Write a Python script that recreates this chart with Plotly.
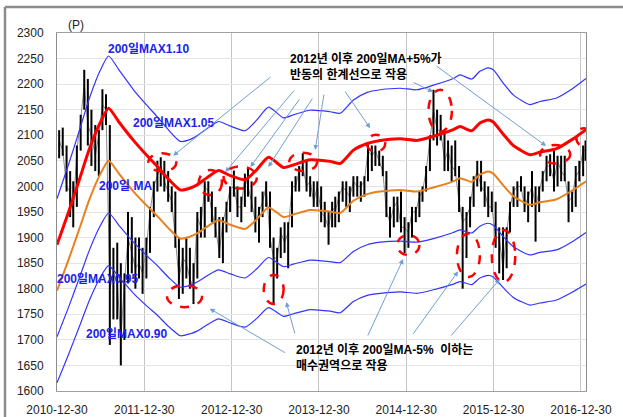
import plotly.graph_objects as go

# ---------------------------------------------------------------------------
# data
# KOSPI half-month high / low / close (one bar on the 8th and 23rd of a month)
price_high = [
    2110, 2115, 2080, 2030, 2010, 2080, 2140, 2228, 2210, 2150, 2120, 2110,
    2190, 2180, 2120, 1880, 1890, 1850, 1830, 1950, 1940, 1900, 1900, 1880,  # 2011
    1900, 1960, 2010, 2050, 2057, 2050, 2030, 2000, 1990, 1900, 1880, 1900,
    1880, 1850, 1950, 1960, 2010, 2010, 1990, 1960, 1940, 1940, 1970, 2000,  # 2012
    2031, 2000, 1980, 2025, 2035, 2010, 1980, 1960, 1990, 2010, 1990, 1900,
    1880, 1920, 1930, 1930, 2010, 2020, 2040, 2065, 2050, 2020, 2010, 2010,  # 2013
    2000, 1970, 1950, 1970, 1980, 1990, 2010, 2010, 2000, 2020, 2020, 2010,
    2020, 2082, 2080, 2080, 2070, 2060, 2030, 1960, 1980, 1980, 1990, 1940,  # 2014
    1930, 1960, 1960, 1990, 2000, 2040, 2100, 2189, 2150, 2140, 2110, 2090,
    2080, 2090, 2040, 1960, 1950, 1980, 2020, 2050, 2050, 2010, 2000, 1990,  # 2015
    1970, 1920, 1920, 1920, 1970, 2000, 2010, 2020, 2000, 1990, 2030, 2000,
    2000, 2030, 2060, 2063, 2070, 2060, 2060, 2060, 2010, 1990, 2040, 2050,  # 2016
    2080, 2090,                                                              # 2017
]
price_low = [
    2055, 2060, 1990, 1940, 1920, 1960, 2070, 2150, 2080, 2040, 2030, 2020,
    2110, 2120, 1690, 1740, 1740, 1650, 1700, 1810, 1830, 1800, 1820, 1790,
    1820, 1870, 1940, 1990, 2000, 1990, 1970, 1950, 1880, 1780, 1790, 1820,
    1800, 1770, 1820, 1900, 1900, 1970, 1930, 1900, 1860, 1850, 1910, 1950,
    1980, 1940, 1930, 1960, 1980, 1950, 1910, 1890, 1940, 1960, 1880, 1770,
    1820, 1860, 1870, 1840, 1920, 1990, 1990, 2020, 1990, 1980, 1960, 1960,
    1930, 1920, 1886, 1920, 1920, 1930, 1970, 1960, 1950, 1980, 1980, 1970,
    1980, 2010, 2030, 2040, 2040, 2020, 1940, 1900, 1920, 1930, 1910, 1870,
    1880, 1900, 1930, 1940, 1970, 1990, 2030, 2090, 2080, 2090, 2030, 2030,
    2010, 2020, 1950, 1800, 1860, 1920, 1960, 2000, 1990, 1960, 1940, 1950,
    1880, 1830, 1817, 1840, 1910, 1960, 1960, 1990, 1950, 1930, 1960, 1892,
    1950, 1990, 2010, 2020, 1990, 2000, 2010, 2010, 1930, 1950, 1960, 2010,
    2020, 2050,
]
price_close = [
    2090, 2070, 2000, 1990, 1950, 2070, 2130, 2200, 2120, 2100, 2060, 2100,
    2160, 2150, 1800, 1830, 1810, 1700, 1810, 1900, 1870, 1840, 1850, 1830,
    1880, 1950, 2000, 2020, 2040, 2010, 1990, 1970, 1900, 1820, 1860, 1850,
    1820, 1800, 1940, 1920, 2000, 1990, 1950, 1920, 1870, 1930, 1960, 1995,
    2000, 1960, 1960, 2020, 2000, 1970, 1930, 1950, 1970, 2000, 1900, 1860,
    1860, 1910, 1890, 1910, 2000, 2000, 2030, 2040, 2000, 2010, 1970, 2000,
    1950, 1940, 1920, 1960, 1950, 1980, 2000, 1990, 1980, 2010, 2000, 2000,
    2010, 2070, 2060, 2070, 2050, 2030, 1950, 1930, 1960, 1970, 1920, 1920,
    1910, 1950, 1950, 1980, 1990, 2030, 2090, 2150, 2110, 2110, 2050, 2070,
    2040, 2030, 1970, 1930, 1940, 1960, 2010, 2030, 2000, 1990, 1960, 1960,
    1900, 1900, 1840, 1910, 1960, 1990, 2000, 2000, 1960, 1980, 2000, 1960,
    1990, 2020, 2040, 2040, 2010, 2050, 2030, 2020, 1970, 1980, 2020, 2030,
    2070, 2070,
]

# 200-day moving average and its envelopes
ma_dates = [
    "2010-12-30", "2011-02-15", "2011-04-01", "2011-05-15", "2011-06-30", "2011-08-03",
    "2011-09-15", "2011-11-15", "2012-01-15", "2012-02-21", "2012-04-10", "2012-05-29",
    "2012-07-10", "2012-08-07", "2012-09-20", "2012-11-05", "2012-12-24", "2013-02-24",
    "2013-04-14", "2013-06-02", "2013-08-04", "2013-09-14", "2013-11-23", "2014-02-15",
    "2014-03-29", "2014-05-23", "2014-07-20", "2014-09-12", "2014-12-05", "2015-02-12",
    "2015-04-23", "2015-07-15", "2015-08-12", "2015-09-30", "2015-11-03", "2015-12-08",
    "2015-12-29", "2016-02-09", "2016-03-22", "2016-05-30", "2016-07-11", "2016-09-19",
    "2016-11-27", "2017-01-20",
]
ma200 = [
    1796, 1855, 1915, 1975, 2025, 2050, 2025, 1990, 1960, 1943, 1918, 1898,
    1902, 1908, 1922, 1934, 1925, 1917, 1936, 1959, 1940, 1945, 1954, 1951,
    1948, 1972, 1985, 1990, 1993, 1990, 1998, 2010, 2016, 2009, 2023, 2029,
    2025, 2002, 1981, 1964, 1969, 1975, 1993, 2010,
]
ma_x110 = [
    1976, 2041, 2107, 2173, 2228, 2255, 2228, 2189, 2156, 2137, 2110, 2088,
    2092, 2099, 2114, 2127, 2118, 2109, 2130, 2155, 2134, 2140, 2149, 2146,
    2143, 2169, 2184, 2189, 2192, 2189, 2198, 2211, 2218, 2210, 2225, 2232,
    2228, 2202, 2179, 2160, 2166, 2173, 2192, 2211,
]
ma_x105 = [
    1886, 1948, 2011, 2074, 2126, 2153, 2126, 2090, 2058, 2040, 2014, 1993,
    1997, 2003, 2018, 2031, 2021, 2013, 2033, 2057, 2037, 2042, 2052, 2049,
    2045, 2071, 2084, 2090, 2093, 2090, 2098, 2111, 2117, 2109, 2124, 2130,
    2126, 2102, 2080, 2062, 2067, 2074, 2093, 2111,
]
ma_x095 = [
    1706, 1762, 1819, 1876, 1924, 1948, 1924, 1891, 1862, 1846, 1822, 1803,
    1807, 1813, 1826, 1837, 1829, 1821, 1839, 1861, 1843, 1848, 1856, 1853,
    1851, 1873, 1886, 1891, 1893, 1891, 1898, 1910, 1915, 1909, 1922, 1928,
    1924, 1902, 1882, 1866, 1871, 1876, 1893, 1910,
]
ma_x090 = [
    1616, 1670, 1724, 1778, 1823, 1845, 1823, 1791, 1764, 1749, 1726, 1708,
    1712, 1717, 1730, 1741, 1733, 1725, 1742, 1763, 1746, 1751, 1759, 1756,
    1753, 1775, 1787, 1791, 1794, 1791, 1798, 1809, 1814, 1808, 1821, 1826,
    1823, 1802, 1783, 1768, 1772, 1778, 1794, 1809,
]

year_ticks = ["2010-12-30", "2011-12-30", "2012-12-30", "2013-12-30",
              "2014-12-30", "2015-12-30", "2016-12-30"]

# ---------------------------------------------------------------------------
price_dates = [f"{y}-{m:02d}-{d:02d}" for y in range(2011, 2017)
               for m in range(1, 13) for d in (8, 23)] + ["2017-01-08", "2017-01-18"]

bar_x, bar_y = [], []
for d, h, l in zip(price_dates, price_high, price_low):
    bar_x += [d, d, None]
    bar_y += [l, h, None]

FONT = "Arial, 'Liberation Sans', 'Noto Sans CJK KR', sans-serif"
BLUE = "#2020EE"
ARROW = "#6F9FD6"

fig = go.Figure()
fig.add_trace(go.Scatter(x=price_dates, y=price_close, mode="lines",
                         line=dict(color="#8C8C8C", width=1), hoverinfo="skip"))
fig.add_trace(go.Scatter(x=bar_x, y=bar_y, mode="lines",
                         line=dict(color="black", width=2), hoverinfo="skip"))

for vals, color, width in [(ma_x110, "#3333FF", 1.2), (ma_x095, "#3333FF", 1.2),
                           (ma_x090, "#3333FF", 1.2), (ma200, "#E8801E", 2),
                           (ma_x105, "#FF0000", 3)]:
    fig.add_trace(go.Scatter(x=ma_dates, y=vals, mode="lines",
                             line=dict(color=color, width=width, shape="spline",
                                       smoothing=0.6)))


def px(x):
    return (x - 57) / 529


def py(y):
    return (391 - y) / 358


def label(x, y, text, color, anchor="center"):
    return dict(x=px(x), y=py(y), text=text, xanchor=anchor, yanchor="middle",
                align="left", xref="paper", yref="paper", showarrow=False,
                font=dict(size=12, color=color, weight="bold"))


annotations = [
    dict(x=px(76), y=py(25), text="(P)", xanchor="center", yanchor="middle",
         xref="paper", yref="paper", showarrow=False, font=dict(size=12, color="#222")),
    label(148.5, 49, "<b>200일MAX1.10</b>", BLUE),
    label(173, 123, "<b>200일MAX1.05</b>", BLUE),
    label(125.5, 186, "<b>200일 MA</b>", BLUE),
    label(97.5, 279, "<b>200일MAX0.95</b>", BLUE),
    label(126.5, 334, "<b>200일MAX0.90</b>", BLUE),
    label(288, 66, "<b>2012년 이후 200일MA+5%가<br>반동의 한계선으로 작용</b>",
          "black", "left"),
    label(294, 357.5, "<b>2012년 이후 200일MA-5%&#160; 이하는<br>매수권역으로 작용</b>",
          "black", "left"),
]

# arrows: tip (date, value), tail offset in pixels
arrows = [
    ("2012-04-29", 2060, 99, -80), ("2012-12-03", 2028, 70, -83),
    ("2013-03-18", 2038, 50, -69), ("2013-06-01", 2038, 45, -70),
    ("2013-12-14", 2071, 9, -57), ("2014-08-01", 2114, -26, -38),
    ("2015-04-21", 2185, -21, -10), ("2016-08-06", 2079, -111, -81),
    ("2012-09-29", 1761, 77, 45), ("2013-08-15", 1774, 9, 33),
    ("2014-12-17", 1858, -36, 78), ("2015-08-04", 1834, -46, 64),
    ("2016-01-26", 1819, -50, 58),
]
for d, v, ax, ay in arrows:
    annotations.append(dict(x=d, y=v, xref="x", yref="y", ax=ax, ay=ay, text="",
                            showarrow=True, arrowhead=2, arrowsize=1,
                            arrowwidth=1, arrowcolor=ARROW))

# red dashed ellipses: (date from, date to, value low, value high)
ellipses = [
    ("2012-01-16", "2012-05-12", 2029, 2065), ("2012-08-14", "2012-11-19", 1983, 2032),
    ("2012-11-26", "2013-04-14", 1996, 2039), ("2013-08-28", "2013-12-22", 2030, 2066),
    ("2014-07-18", "2014-10-03", 2068, 2101), ("2015-04-02", "2015-07-09", 2107, 2189),
    ("2016-07-12", "2016-11-15", 2045, 2081), ("2016-12-10", "2017-02-12", 2078, 2114),
    ("2012-04-03", "2012-08-28", 1764, 1807), ("2013-05-13", "2013-08-04", 1770, 1827),
    ("2014-11-22", "2015-02-23", 1866, 1905), ("2015-07-30", "2015-11-03", 1823, 1908),
    ("2015-12-23", "2016-03-30", 1813, 1915),
]
shapes = [dict(type="circle", xref="x", yref="y", x0=a, x1=b, y0=lo, y1=hi,
               line=dict(color="#FF0000", width=2.5, dash="dash"))
          for a, b, lo, hi in ellipses]

# grey outer frame of the original picture
shapes += [
    dict(type="line", xref="paper", yref="paper", x0=px(5), x1=px(623),
         y0=py(7), y1=py(7), line=dict(color="#8C8C8C", width=2.5)),
    dict(type="line", xref="paper", yref="paper", x0=px(5), x1=px(5),
         y0=py(7), y1=py(417), line=dict(color="#8C8C8C", width=2.5)),
]

fig.update_layout(
    width=623, height=417,
    margin=dict(l=57, r=37, t=33, b=26),
    paper_bgcolor="white", plot_bgcolor="white",
    showlegend=False,
    font=dict(family=FONT, size=12, color="#222"),
    annotations=annotations,
    shapes=shapes,
)
fig.update_xaxes(type="date", range=["2010-12-30", "2017-01-20"], automargin=False,
                 tickvals=year_ticks, ticktext=year_ticks, ticks="",
                 ticklabelstandoff=8, showgrid=True, gridcolor="#C4C4C4",
                 showline=True, linecolor="#A0A0A0", mirror=True, zeroline=False)
fig.update_yaxes(range=[1600, 2300], dtick=50, tick0=1600, ticks="", automargin=False,
                 ticklabelstandoff=10, showgrid=True, gridcolor="#E4E4E4",
                 showline=True, linecolor="#8C8C8C", mirror=True, zeroline=False)

# the page body has a default 8px margin; drop it so the figure sits at 0,0
fig.write_html("out.html", config={"displayModeBar": False},
               post_script="document.body.style.margin='0';")
